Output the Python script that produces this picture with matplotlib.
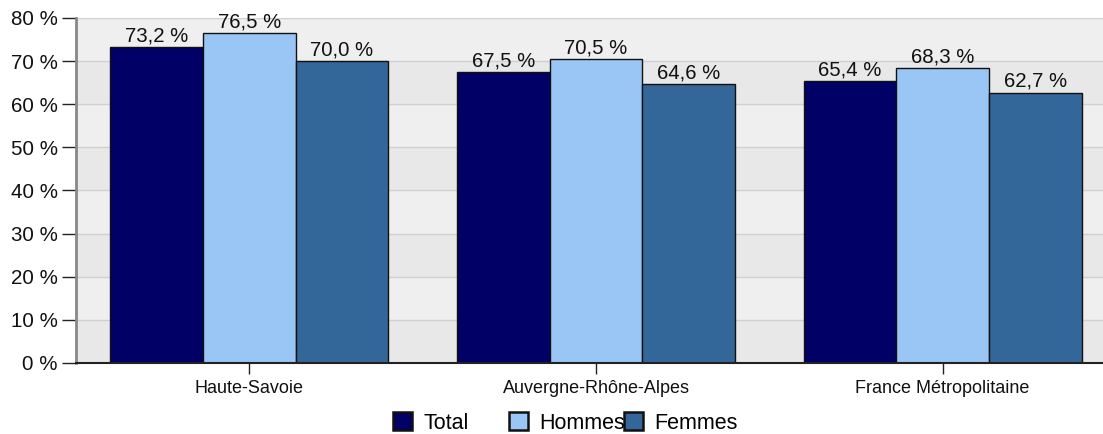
import matplotlib
matplotlib.use("Agg")
import matplotlib.pyplot as plt
import numpy as np
from matplotlib.patches import Patch

plt.rcParams['font.family'] = ['Liberation Sans', 'DejaVu Sans']

categories = ["Haute-Savoie", "Auvergne-Rhône-Alpes", "France Métropolitaine"]
series_names = ["Total", "Hommes", "Femmes"]
total = [73.2, 67.5, 65.4]
hommes = [76.5, 70.5, 68.3]
femmes = [70.0, 64.6, 62.7]
yticks = [0, 10, 20, 30, 40, 50, 60, 70, 80]
colors = ["#000066", "#99c6f5", "#336699"]

fig = plt.figure(figsize=(11.03, 4.34), dpi=100)
ax = fig.add_axes([76/1103, 71/434, 1040/1103, 345/434])
ax.set_facecolor("#efefef")

# alternating bands
for i in range(0, 8, 2):
    ax.axhspan(yticks[i], yticks[i+1], color="#e8e8e8", zorder=0, lw=0)
for y in yticks[1:]:
    ax.axhline(y, color="#d0d0d0", lw=1, zorder=0.5)

x = np.arange(len(categories))
w = 0.267
for j, (vals, c) in enumerate(zip([total, hommes, femmes], colors)):
    pos = x + (j - 1) * w
    ax.bar(pos, vals, width=w, color=c, edgecolor="#111111", linewidth=1, zorder=2)
    for p, v in zip(pos, vals):
        ax.text(p, v + 0.4, f"{v:.1f}".replace(".", ",") + " %", ha="center", va="bottom",
                fontsize=14.7, color="#111111", zorder=3)

ax.set_xlim(-0.5, 2.5)
ax.set_ylim(0, 80)
ax.set_yticks(yticks)
ax.set_yticklabels([f"{t} %" for t in yticks], fontsize=14.8, color="#111111")
ax.set_xticks(x)
ax.set_xticklabels(categories, fontsize=13, color="#111111")
ax.tick_params(axis="y", length=10, width=1, color="#222222", pad=3)
ax.tick_params(axis="x", length=8, width=1, color="#222222", pad=4)

for s in ["top", "right"]:
    ax.spines[s].set_visible(False)
ax.spines["left"].set_color("#888888")
ax.spines["left"].set_linewidth(2)
ax.spines["bottom"].set_color("#222222")
ax.spines["bottom"].set_linewidth(1.5)

legend_x = [393, 509, 624]
for lx, c, n in zip(legend_x, colors, series_names):
    h = Patch(facecolor=c, edgecolor="#111111", linewidth=1.8, label=n)
    fig.legend(handles=[h], loc="center left", bbox_to_anchor=(lx/1103, 1 - 423/434),
               frameon=False, fontsize=15.5, handlelength=0.9, handleheight=0.9,
               handletextpad=0.5, borderpad=0, borderaxespad=0)

fig.savefig("out.png", dpi=100)
